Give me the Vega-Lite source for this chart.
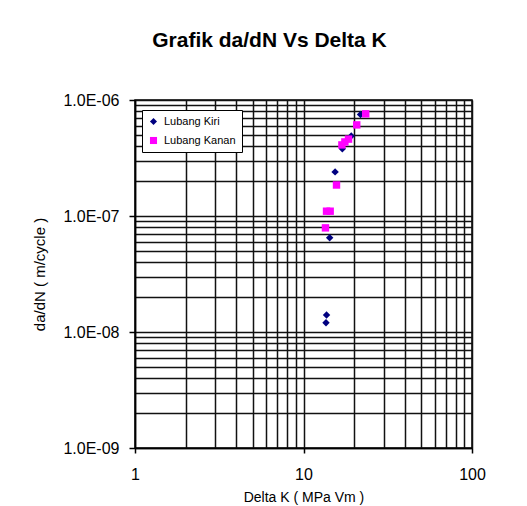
{
  "$schema": "https://vega.github.io/schema/vega-lite/v6.json",
  "width": 337,
  "height": 348,
  "autosize": {"type": "none"},
  "padding": {"left": 135, "top": 100, "right": 55, "bottom": 58},
  "background": "white",
  "title": {
    "text": "Grafik da/dN Vs Delta K",
    "font": "Liberation Sans",
    "fontSize": 21,
    "fontWeight": "bold",
    "color": "black",
    "anchor": "middle",
    "dx": -34,
    "offset": 41
  },
  "data": {
    "values": [
      {"deltaK": 13.6, "dadN": 1.2e-8, "lubang": "Lubang Kiri"},
      {"deltaK": 13.7, "dadN": 1.4e-8, "lubang": "Lubang Kiri"},
      {"deltaK": 14.3, "dadN": 6.5e-8, "lubang": "Lubang Kiri"},
      {"deltaK": 15.4, "dadN": 2.4e-7, "lubang": "Lubang Kiri"},
      {"deltaK": 17.0, "dadN": 3.8e-7, "lubang": "Lubang Kiri"},
      {"deltaK": 19.2, "dadN": 4.9e-7, "lubang": "Lubang Kiri"},
      {"deltaK": 21.8, "dadN": 7.5e-7, "lubang": "Lubang Kiri"},
      {"deltaK": 13.5, "dadN": 7.9e-8, "lubang": "Lubang Kanan"},
      {"deltaK": 13.7, "dadN": 1.1e-7, "lubang": "Lubang Kanan"},
      {"deltaK": 14.4, "dadN": 1.1e-7, "lubang": "Lubang Kanan"},
      {"deltaK": 15.7, "dadN": 1.85e-7, "lubang": "Lubang Kanan"},
      {"deltaK": 16.9, "dadN": 4.1e-7, "lubang": "Lubang Kanan"},
      {"deltaK": 17.6, "dadN": 4.35e-7, "lubang": "Lubang Kanan"},
      {"deltaK": 18.5, "dadN": 4.6e-7, "lubang": "Lubang Kanan"},
      {"deltaK": 20.7, "dadN": 6.1e-7, "lubang": "Lubang Kanan"},
      {"deltaK": 23.4, "dadN": 7.6e-7, "lubang": "Lubang Kanan"}
    ]
  },
  "mark": {"type": "point", "filled": true, "opacity": 1, "size": 55, "clip": true},
  "encoding": {
    "x": {
      "field": "deltaK",
      "type": "quantitative",
      "title": "Delta K ( MPa Vm )",
      "scale": {"type": "log", "domain": [1, 100], "nice": false},
      "axis": {
        "values": [1, 2, 3, 4, 5, 6, 7, 8, 9, 10, 20, 30, 40, 50, 60, 70, 80, 90, 100],
        "labelExpr": "indexof([1, 10, 100], datum.value) >= 0 ? datum.label : ''",
        "format": "d",
        "labelOverlap": false,
        "labelFlush": false,
        "tickSize": 5,
        "tickOpacity": {"condition": {"test": "indexof([1, 10, 100], datum.value) >= 0", "value": 1}, "value": 0},
        "labelPadding": 13,
        "titlePadding": 8,
        "titleFontSize": 14
      }
    },
    "y": {
      "field": "dadN",
      "type": "quantitative",
      "title": "da/dN ( m/cycle )",
      "scale": {"type": "log", "domain": [1e-9, 1e-6], "nice": false},
      "axis": {
        "values": [1e-9, 2e-9, 3e-9, 4e-9, 5e-9, 6e-9, 7e-9, 8e-9, 9e-9, 1e-8, 2e-8, 3e-8, 4e-8, 5e-8, 6e-8, 7e-8, 8e-8, 9e-8, 1e-7, 2e-7, 3e-7, 4e-7, 5e-7, 6e-7, 7e-7, 8e-7, 9e-7, 1e-6],
        "labelExpr": "abs(log(datum.value) / LN10 - round(log(datum.value) / LN10)) < 0.001 ? '1.0E-0' + (-round(log(datum.value) / LN10)) : ''",
        "labelOverlap": false,
        "labelFlush": false,
        "tickSize": 6,
        "tickOpacity": {"condition": {"test": "abs(log(datum.value) / LN10 - round(log(datum.value) / LN10)) < 0.001", "value": 1}, "value": 0},
        "labelPadding": 10,
        "titlePadding": 15
      }
    },
    "color": {
      "field": "lubang",
      "type": "nominal",
      "scale": {"domain": ["Lubang Kiri", "Lubang Kanan"], "range": ["#000080", "#FF00FF"]},
      "legend": {
        "title": null,
        "orient": "none",
        "legendX": 7,
        "legendY": 10,
        "padding": 6,
        "fillColor": "white",
        "strokeColor": "black",
        "labelFont": "Liberation Sans",
        "labelFontSize": 11,
        "labelColor": "black",
        "labelOffset": 5,
        "rowPadding": 7,
        "symbolSize": 50,
        "symbolStrokeWidth": 0
      }
    },
    "shape": {
      "field": "lubang",
      "type": "nominal",
      "scale": {"domain": ["Lubang Kiri", "Lubang Kanan"], "range": ["diamond", "square"]}
    }
  },
  "config": {
    "view": {"stroke": "black", "strokeWidth": 1.5},
    "axis": {
      "grid": true,
      "gridColor": "#111111",
      "gridWidth": 1.5,
      "gridOpacity": 1,
      "domainColor": "black",
      "domainWidth": 1.5,
      "tickColor": "black",
      "tickWidth": 1.5,
      "labelFont": "Liberation Sans",
      "labelFontSize": 16,
      "labelColor": "black",
      "titleFont": "Liberation Sans",
      "titleFontSize": 15,
      "titleFontWeight": "normal",
      "titleColor": "black"
    }
  }
}
